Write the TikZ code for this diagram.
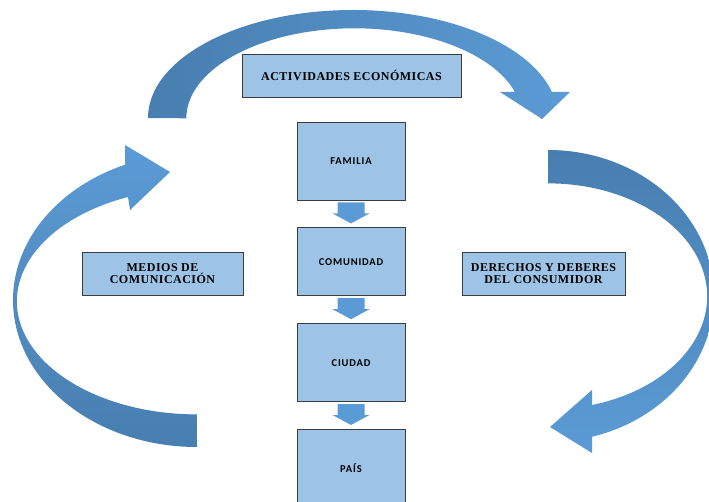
\documentclass[tikz,border=0pt]{standalone}
\usepackage{fontspec}
\usepackage{xcolor}
\usepackage{tikz}
\usetikzlibrary{positioning}
\newfontfamily\topicfont[LetterSpace=4]{Liberation Serif}
\newfontfamily\levelfont[LetterSpace=8]{Carlito}
\definecolor{boxblue}{RGB}{157, 195, 230}
\definecolor{boxline}{RGB}{60, 60, 60}
\definecolor{arrowlight}{RGB}{91, 155, 213}
\definecolor{arrowdark}{RGB}{72, 126, 176}

\begin{document}
\begin{tikzpicture}[
    x=1pt, y=-1pt,
    node distance=27pt,
    level/.style={rectangle, draw=boxline, fill=boxblue, line width=0.8pt, minimum width=108pt, minimum height=78pt, text centered, font=\levelfont\bfseries\fontsize{10.5}{12}\selectfont},
    topic/.style={rectangle, draw=boxline, fill=boxblue, line width=0.8pt, minimum height=43pt, align=center, font=\topicfont\bfseries\fontsize{12}{12.5}\selectfont},
    blockarrow/.style={fill=arrowlight, to path={([xshift=-13.5pt, yshift=-2pt]\tikztostart.south) -- ([xshift=13.5pt, yshift=-2pt]\tikztostart.south) -- ([xshift=13.5pt, yshift=-13pt]\tikztostart.south) -- ([xshift=18.5pt, yshift=-13pt]\tikztostart.south) -- ([yshift=4pt]\tikztotarget.north) -- ([xshift=-18.5pt, yshift=-13pt]\tikztostart.south) -- ([xshift=-13.5pt, yshift=-13pt]\tikztostart.south) -- cycle}}
]
\useasboundingbox (0,0) rectangle (709,502);
\clip (0,0) rectangle (709,502);

% curved arrows round the column
\shade[left color=arrowdark, right color=arrowlight]
  (148,118) arc[start angle=180, end angle=346, x radius=205, y radius=108]
  -- (570,92) -- (542,119) -- (500,92) -- (515,92)
  arc[start angle=343, end angle=180, x radius=168, y radius=90] -- cycle;
\shade[top color=arrowdark, bottom color=arrowlight]
  (548,150) arc[start angle=270, end angle=434.6, x radius=166, y radius=146]
  -- (592,453) -- (550,427) -- (592,390) -- (592,405)
  arc[start angle=434, end angle=270, x radius=159, y radius=113] -- cycle;
\shade[top color=arrowlight, bottom color=arrowdark]
  (197,447) arc[start angle=90, end angle=247, x radius=184, y radius=147]
  -- (125,145) -- (170,172) -- (130,210) -- (128,197)
  arc[start angle=247.5, end angle=90, x radius=180, y radius=113] -- cycle;

\node[topic, minimum width=219pt] (actividades) at (351.5,75.5) {ACTIVIDADES ECONÓMICAS};
\node[topic, minimum width=161pt] (medios) at (162.5,273.5) {MEDIOS DE\\COMUNICACIÓN};
\node[topic, minimum width=163pt] (derechos) at (543.5,273.5) {DERECHOS Y DEBERES\\DEL CONSUMIDOR};

\node[level] (familia) at (351,161) {FAMILIA};
\node[level, minimum height=68pt, below=of familia] (comunidad) {COMUNIDAD};
\node[level, below=of comunidad] (ciudad) {CIUDAD};
\node[level, below=of ciudad] (pais) {PAÍS};

\fill[blockarrow] (familia) to (comunidad);
\fill[blockarrow] (comunidad) to (ciudad);
\fill[blockarrow] (ciudad) to (pais);

\end{tikzpicture}
\end{document}
